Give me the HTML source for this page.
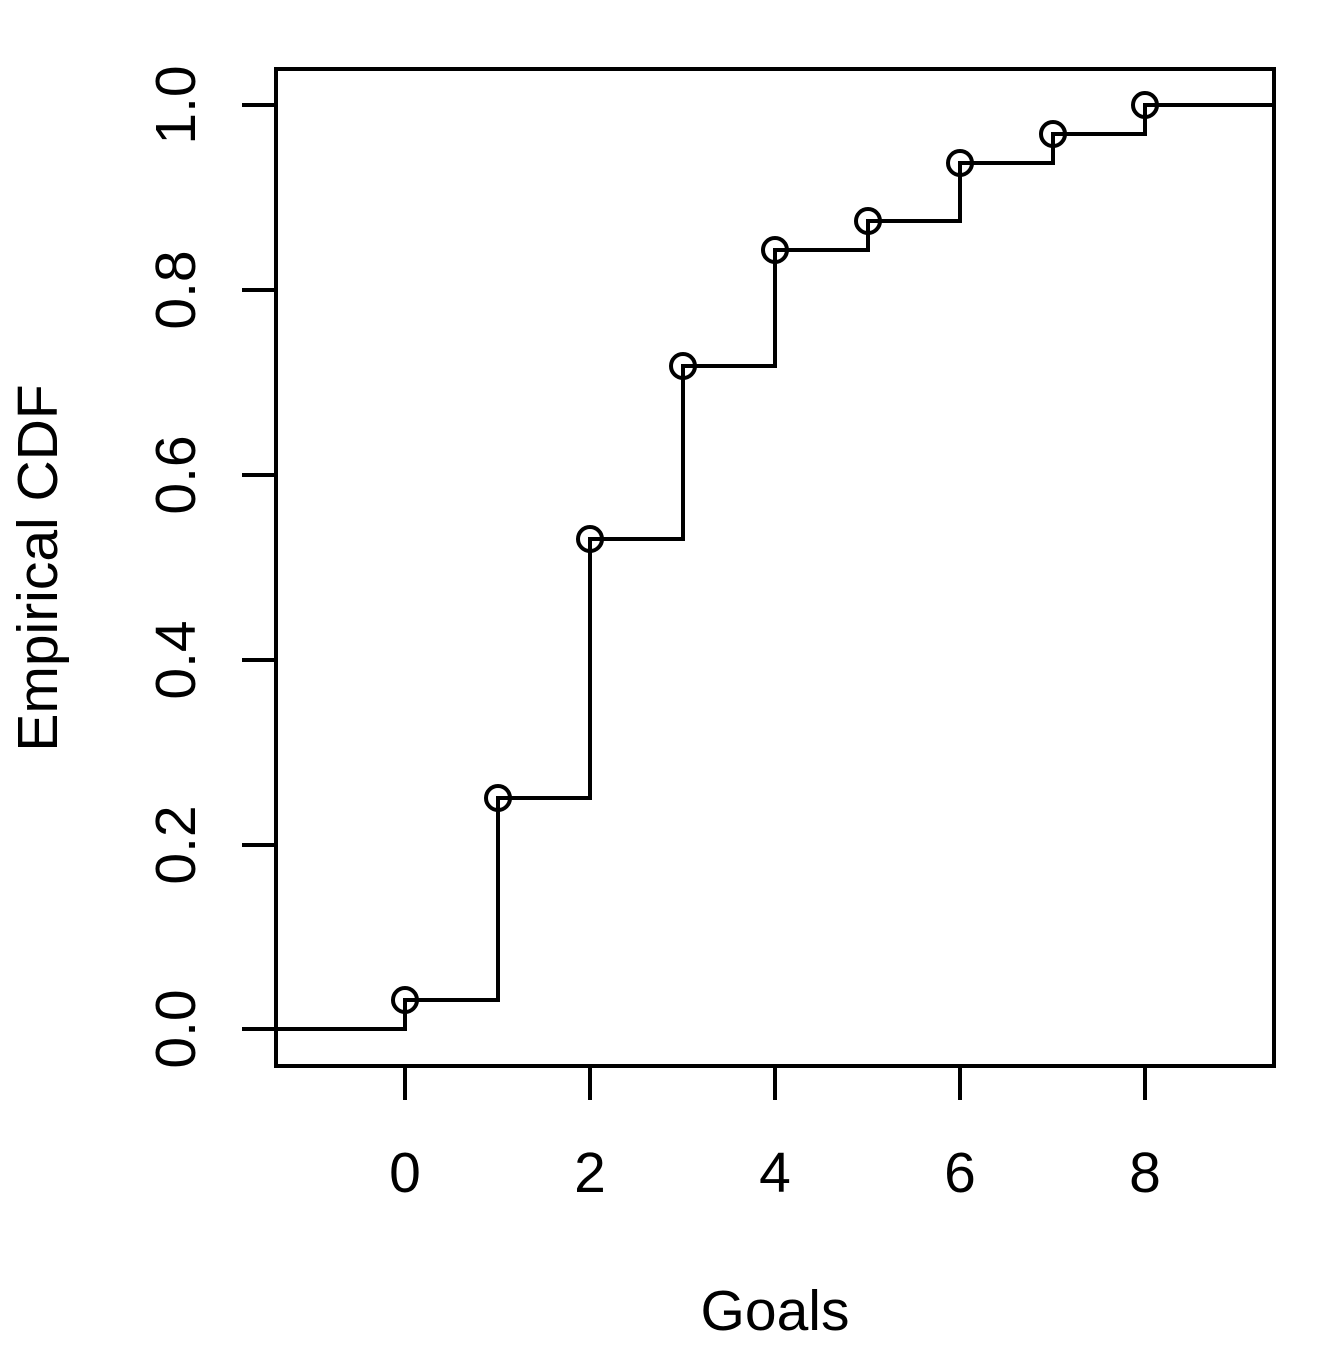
<!DOCTYPE html>
<html><head><style>html,body{margin:0;padding:0;background:#fff}</style></head>
<body>
<svg width="1344" height="1344" viewBox="0 0 1344 1344" xmlns="http://www.w3.org/2000/svg" font-family="Liberation Sans, Arial, sans-serif">
<rect width="1344" height="1344" fill="#fff"/>
<rect x="276" y="69" width="998" height="997" fill="none" stroke="#000" stroke-width="4"/>
<g stroke="#000" stroke-width="4" fill="none">
<line x1="405" y1="1066" x2="405" y2="1100"/>
<line x1="590" y1="1066" x2="590" y2="1100"/>
<line x1="775" y1="1066" x2="775" y2="1100"/>
<line x1="960" y1="1066" x2="960" y2="1100"/>
<line x1="1145" y1="1066" x2="1145" y2="1100"/>
<line x1="242" y1="1029" x2="276" y2="1029"/>
<line x1="242" y1="845" x2="276" y2="845"/>
<line x1="242" y1="660" x2="276" y2="660"/>
<line x1="242" y1="475" x2="276" y2="475"/>
<line x1="242" y1="290" x2="276" y2="290"/>
<line x1="242" y1="105" x2="276" y2="105"/>
<polyline points="276,1029 405,1029 405,1000 498,1000 498,798 590,798 590,539 683,539 683,366 775,366 775,250 868,250 868,221 960,221 960,163 1053,163 1053,134 1145,134 1145,105 1274,105"/>
<circle cx="405" cy="1000" r="12"/>
<circle cx="498" cy="798" r="12"/>
<circle cx="590" cy="539" r="12"/>
<circle cx="683" cy="366" r="12"/>
<circle cx="775" cy="250" r="12"/>
<circle cx="868" cy="221" r="12"/>
<circle cx="960" cy="163" r="12"/>
<circle cx="1053" cy="134" r="12"/>
<circle cx="1145" cy="105" r="12"/>
</g>
<g font-size="57" text-anchor="middle" fill="#000">
<text x="405" y="1192">0</text>
<text x="590" y="1192">2</text>
<text x="775" y="1192">4</text>
<text x="960" y="1192">6</text>
<text x="1145" y="1192">8</text>
<text transform="translate(195,1029) rotate(-90)">0.0</text>
<text transform="translate(195,845) rotate(-90)">0.2</text>
<text transform="translate(195,660) rotate(-90)">0.4</text>
<text transform="translate(195,475) rotate(-90)">0.6</text>
<text transform="translate(195,290) rotate(-90)">0.8</text>
<text transform="translate(195,105) rotate(-90)">1.0</text>
<text x="775" y="1330">Goals</text>
<text transform="translate(57,568) rotate(-90)">Empirical CDF</text>
</g>
</svg>
</body></html>
